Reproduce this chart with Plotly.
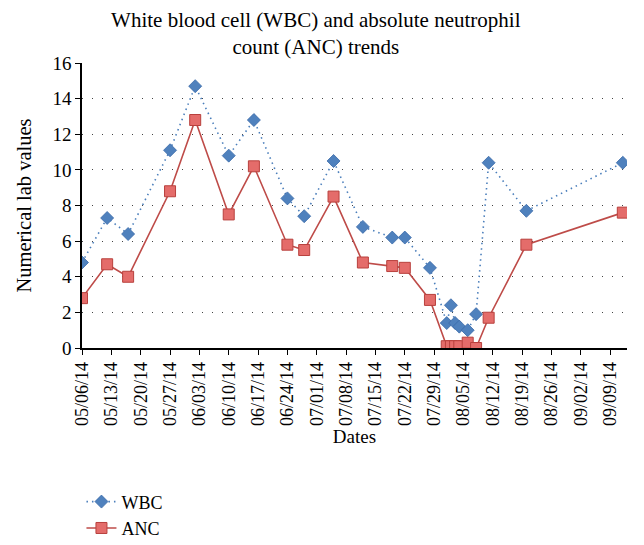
import plotly.graph_objects as go

# Sampling dates and lab values
dates = ['2014-05-06', '2014-05-12', '2014-05-17', '2014-05-27', '2014-06-02',
         '2014-06-10', '2014-06-16', '2014-06-24', '2014-06-28', '2014-07-05',
         '2014-07-12', '2014-07-19', '2014-07-22', '2014-07-28', '2014-08-01',
         '2014-08-02', '2014-08-03', '2014-08-04', '2014-08-06', '2014-08-08',
         '2014-08-11', '2014-08-20', '2014-09-12']

wbc = [4.8, 7.3, 6.4, 11.1, 14.7, 10.8, 12.8, 8.4, 7.4, 10.5,
       6.8, 6.2, 6.2, 4.5, 1.4, 2.4, 1.4, 1.2, 1.0, 1.9,
       10.4, 7.7, 10.4]

anc = [2.8, 4.7, 4.0, 8.8, 12.8, 7.5, 10.2, 5.8, 5.5, 8.5,
       4.8, 4.6, 4.5, 2.7, 0.1, 0.1, 0.1, 0.1, 0.3, 0.0,
       1.7, 5.8, 7.6]

font_family = "Liberation Serif"

fig = go.Figure()
fig.add_trace(go.Scatter(
    x=dates, y=wbc, name="WBC", mode="lines+markers",
    line=dict(color="#4a7ebb", width=1.6, dash="1.5px,4px"),
    marker=dict(symbol="diamond", size=10, color="#4f81bd",
                line=dict(color="#3a6aa8", width=0.8)),
))
fig.add_trace(go.Scatter(
    x=dates, y=anc, name="ANC", mode="lines+markers",
    line=dict(color="#be4b48", width=1.6),
    marker=dict(symbol="square", size=11, color="#e46c6a",
                line=dict(color="#b8403d", width=1)),
))

# the page body adds an 8px margin, so the figure is a bit smaller than the window
fig.update_layout(
    width=636, height=537,
    paper_bgcolor="white", plot_bgcolor="white",
    font=dict(family=font_family, size=19, color="black"),
    margin=dict(l=74, r=17, t=55, b=197, autoexpand=False),
    title=dict(text="White blood cell (WBC) and absolute neutrophil<br>count (ANC) trends",
               xref="container", x=0.484, xanchor="center",
               yref="paper", y=1, yanchor="bottom",
               pad=dict(b=36), font=dict(size=21)),
    showlegend=True,
    legend=dict(x=-0.001, xanchor="left", y=-0.475, yanchor="top",
                orientation="v", font=dict(size=18),
                bgcolor="rgba(0,0,0,0)", tracegroupgap=0),
)

fig.update_xaxes(
    range=["2014-05-06", "2014-09-13"],
    tick0="2014-05-06", dtick=7 * 86400000,
    tickformat="%m/%d/%y", tickangle=-90,
    ticks="outside", ticklen=5, tickcolor="black",
    showline=True, linecolor="black", linewidth=1.5,
    showgrid=False, zeroline=False, automargin=False,
    title=dict(text="Dates", font=dict(size=19), standoff=5),
    tickfont=dict(size=18),
)
fig.update_yaxes(
    range=[0, 16], dtick=2,
    ticks="outside", ticklen=5, tickcolor="black",
    showline=True, linecolor="black", linewidth=1.5,
    showgrid=True, gridcolor="#444444", gridwidth=1.2, griddash="1.2px,8.8px",
    zeroline=False, automargin=False,
    title=dict(text="Numerical lab values", font=dict(size=20.5), standoff=15),
    tickfont=dict(size=19),
)

fig.write_html("out.html")
